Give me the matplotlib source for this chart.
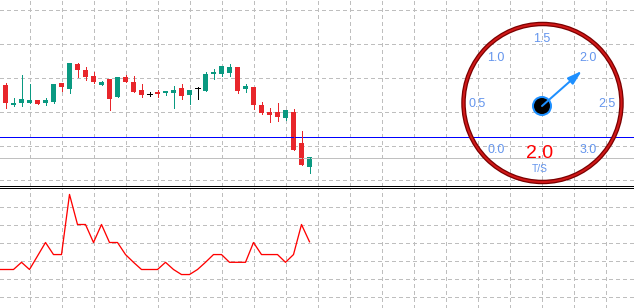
import matplotlib
matplotlib.use("Agg")
import matplotlib.pyplot as plt
import numpy as np
from matplotlib.patches import Circle, FancyArrowPatch

# price bars (chart points, bigger = higher)
opens = [99, 79, 81.3, 81.3, 84, 81.3, 82.3, 101, 95.3, 120, 114, 108, 99, 105, 87.3,
         107, 102, 94, 90.3, 92, 91.3, 91.3, 96, 89.3, 96, 93.3, 110.3, 110.3, 111.3,
         117, 95.3, 97, 79, 72, 72, 66.3, 72, 41, 17.3]
highs = [101, 86, 109, 100.3, 84, 86, 100, 101, 121, 121, 117, 112, 103, 105, 107,
         109, 108, 100, 92, 94, 93, 98, 100, 94, 97, 112, 115, 118, 120,
         117, 100, 97, 82, 76.3, 81, 74, 75, 53, 27]
lows = [76.3, 78, 78.3, 80.7, 80.3, 79.3, 81.3, 93.3, 91.3, 107, 104, 101, 99, 74.3, 87.3,
        102, 92.3, 87, 88, 87.3, 89.3, 76.3, 85.3, 80.3, 85.3, 93.3, 105.3, 108, 108.3,
        91.3, 92.3, 75.3, 70.3, 62.3, 63.3, 64.3, 34.3, 19.3, 11.3]
closes = [81.3, 81, 85, 84, 80.3, 84, 100, 97, 121, 114, 107, 102, 102, 85.3, 107,
          102, 92.3, 89, 90.3, 90.3, 93, 94, 88.3, 94, 96, 110, 112, 118, 117,
          93.3, 98, 79.3, 71.3, 69.3, 67, 74, 34.3, 19.3, 27]

level_line = 47.5
bid_line = 26.5

# ticks per second, starts one bar before the first candle
tps = [0.5, 0.5, 0.5, 0.9, 0.5, 1.25, 2.0, 1.33, 1.33, 4.67, 3.0, 3.0, 2.0, 3.0, 2.0,
       2.0, 1.33, 0.9, 0.5, 0.5, 0.5, 0.9, 0.5, 0.22, 0.22, 0.5, 0.9, 1.33, 1.33,
       0.9, 0.9, 0.9, 2.0, 1.33, 1.33, 1.33, 0.9, 1.33, 3.0, 2.04]

gauge_ticks = [0.0, 0.5, 1.0, 1.5, 2.0, 2.5, 3.0]
gauge_unit = "T/S"

W, H = 634, 308
PX = 72 / 100
UP = "#0A9981"
DOWN = "#E8262B"
GRID = "#BEBEBE"
XLIM = (-5.5 / 8, (W - 5.5) / 8)

plt.rcParams["font.family"] = ["Liberation Sans", "DejaVu Sans"]

fig = plt.figure(figsize=(W / 100, H / 100), dpi=100)


def panel(top, bottom):
    ax = fig.add_axes([0, 1 - bottom / H, 1, (bottom - top) / H])
    ax.set_xlim(*XLIM)
    ax.set_xticks(np.arange(3, 79, 4))
    ax.tick_params(length=0, labelbottom=False, labelleft=False)
    ax.grid(True, color=GRID, linestyle=(0, (4, 3)), linewidth=PX, antialiased=False)
    ax.set_axisbelow(True)
    for side in ax.spines:
        ax.spines[side].set_visible(False)
    return ax


# main chart
ax = panel(0, 185.5)
ax.set_ylim(-1.5, 184)
ax.set_yticks(np.arange(4.5, 184, 34))
ax.spines["bottom"].set_visible(True)
ax.spines["bottom"].set_linewidth(PX)
ax.spines["bottom"].set_color("black")

ax.axhline(level_line, color="#0000FF", lw=PX, antialiased=False)
ax.axhline(bid_line, color="#C0C0C0", lw=PX, antialiased=False)

for i in range(len(opens)):
    o, h, l, c = opens[i], highs[i], lows[i], closes[i]
    color = UP if c > o else DOWN if c < o else "black"
    ax.vlines(i, l, h, color=color, lw=PX, antialiased=False)
    if c == o:
        ax.hlines(o, i - 0.3125, i + 0.3125, color=color, lw=PX, antialiased=False)
    else:
        ax.bar(i, abs(c - o), bottom=min(o, c), width=0.625, color=color,
               linewidth=0, antialiased=False)

# ticks per second sub window
ax2 = panel(187.5, H)
ax2.set_ylim((278.5 - H) / 18, (278.5 - 187.5) / 18)
ax2.set_yticks(np.arange(-1, 5))
ax2.spines["top"].set_visible(True)
ax2.spines["top"].set_linewidth(PX)
ax2.spines["top"].set_color("black")
ax2.plot(np.arange(-1, len(tps) - 1), tps, color="#FF0000", lw=1.3 * PX)

# gauge, drawn in pixel units
ov = fig.add_axes([0, 0, 1, 1])
ov.set_xlim(0, W)
ov.set_ylim(H, 0)
ov.axis("off")

cx, cy = 542, 106
ov.add_patch(Circle((542.5, 103), 79, fill=False, ec="#7A0000", lw=4.5 * PX))
ov.add_patch(Circle((542.5, 103), 79, fill=False, ec="#D01818", lw=2 * PX))

for v in gauge_ticks:
    ang = np.radians(225 - v * 90)
    ov.text(542 + 65 * np.cos(ang), 104 - 65 * np.sin(ang), f"{v:.1f}",
            ha="center", va="center", color="#6495ED", fontsize=9)

ov.add_patch(Circle((cx, cy), 9, fc="black", ec="#1E90FF", lw=2 * PX))
value = tps[-1]
ang = np.radians(225 - value * 90)
tip = (cx + 53 * np.cos(ang), cy - 53 * np.sin(ang))
ov.add_patch(FancyArrowPatch((cx, cy), tip, arrowstyle="-|>,head_length=8.5,head_width=2.6",
                             mutation_scale=1, color="#1E90FF", lw=2 * PX,
                             shrinkA=0, shrinkB=0))

ov.text(540, 153, f"{value:.1f}", ha="center", va="center", color="#FF0000", fontsize=14)
ov.text(540, 169.5, gauge_unit, ha="center", va="center", color="#6495ED", fontsize=7.5)

fig.savefig("out.png", dpi=100)
